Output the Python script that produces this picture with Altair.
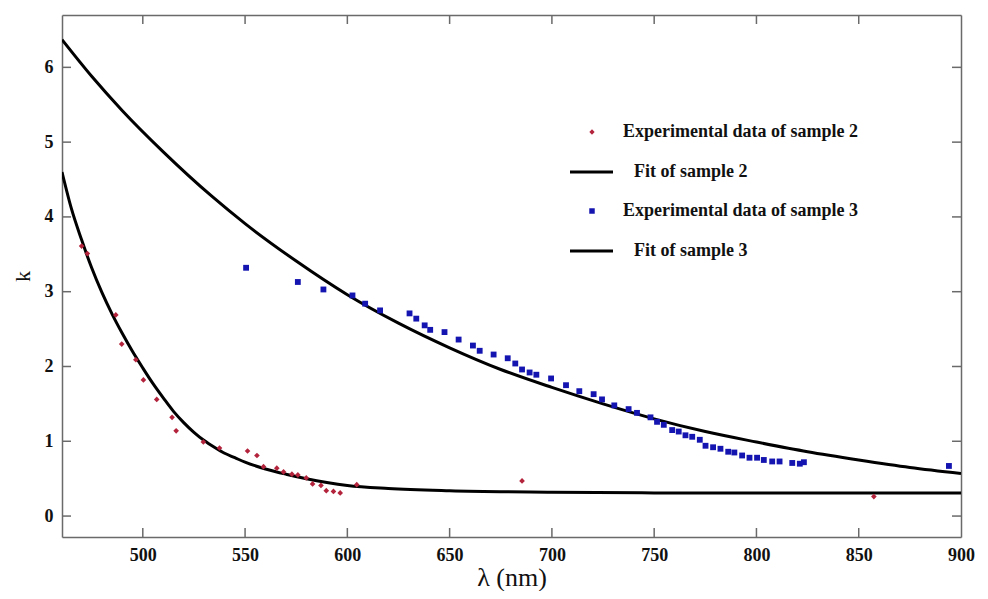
import altair as alt
import pandas as pd

# ---- data ----
s2_x = [470.1, 472.9, 486.8, 489.7, 496.6, 500.3, 506.8, 514.3, 516.3, 529.6, 537.5,
        551.2, 555.8, 559.0, 565.5, 568.8, 572.9, 575.8, 579.9, 583.0, 587.1, 589.7,
        593.2, 596.5, 604.6, 685.4, 857.4]
s2_k = [3.61, 3.51, 2.69, 2.30, 2.09, 1.82, 1.56, 1.32, 1.14, 0.99, 0.91,
        0.87, 0.81, 0.66, 0.64, 0.59, 0.56, 0.55, 0.51, 0.43, 0.41, 0.34,
        0.33, 0.31, 0.42, 0.47, 0.26]

s3_x = [550.5, 575.8, 588.3, 602.5, 608.7, 616.0, 630.4, 633.7, 637.8, 640.5, 647.5,
        654.4, 661.4, 664.7, 671.5, 678.4, 682.1, 685.4, 689.1, 692.4, 699.6, 706.9,
        713.4, 720.4, 724.5, 730.5, 737.5, 741.6, 748.2, 751.4, 754.7, 758.8, 762.0,
        765.3, 768.6, 772.3, 775.1, 778.8, 782.4, 786.2, 789.2, 793.0, 796.6, 800.3,
        803.6, 807.7, 811.3, 817.5, 821.2, 823.2, 894.1]
s3_k = [3.32, 3.13, 3.03, 2.95, 2.84, 2.75, 2.71, 2.64, 2.55, 2.49, 2.46,
        2.36, 2.28, 2.21, 2.16, 2.11, 2.04, 1.96, 1.92, 1.89, 1.84, 1.75,
        1.67, 1.63, 1.56, 1.48, 1.43, 1.38, 1.32, 1.26, 1.22, 1.15, 1.13,
        1.08, 1.06, 1.02, 0.94, 0.92, 0.90, 0.86, 0.85, 0.81, 0.78, 0.78,
        0.75, 0.73, 0.73, 0.71, 0.70, 0.72, 0.67]

fit2_x = [460.5, 465, 470, 475, 480, 485, 490, 495, 500, 505, 510, 515, 520, 525, 530,
          535, 540, 545, 550, 560, 570, 580, 590, 600, 620, 650, 700, 750, 800, 850, 900]
fit2_k = [4.60, 4.12, 3.70, 3.32, 2.99, 2.70, 2.44, 2.20, 1.98, 1.77, 1.58, 1.40, 1.25, 1.12, 1.01,
          0.92, 0.84, 0.78, 0.72, 0.63, 0.56, 0.50, 0.45, 0.41, 0.37, 0.34, 0.32, 0.31, 0.31, 0.31, 0.31]

fit3_x = [460.5, 475, 490, 510, 534, 550, 575, 600, 625, 650, 675, 700,
          725, 750, 775, 800, 825, 850, 875, 900]
fit3_k = [6.37, 5.88, 5.42, 4.87, 4.27, 3.91, 3.41, 2.96, 2.58, 2.25, 1.96, 1.72,
          1.50, 1.30, 1.13, 0.99, 0.86, 0.75, 0.65, 0.57]

x_ticks = [500, 550, 600, 650, 700, 750, 800, 850, 900]
y_ticks = [0, 1, 2, 3, 4, 5, 6]
legend_labels = ["Experimental data of sample 2", "Fit of sample 2",
                 "Experimental data of sample 3", "Fit of sample 3"]

X_DOM = [460.5, 900]
Y_DOM = [-0.28, 6.70]
W, H = 899, 522
RED = "#b3243c"
BLUE = "#1414b0"
AX = "#6a6a6a"
FONT = "Liberation Serif"

d2 = pd.DataFrame({"x": s2_x, "k": s2_k})
d3 = pd.DataFrame({"x": s3_x, "k": s3_k})
f2 = pd.DataFrame({"x": fit2_x, "k": fit2_k})
f3 = pd.DataFrame({"x": fit3_x, "k": fit3_k})

xs = alt.Scale(domain=X_DOM, nice=False, zero=False)
ys = alt.Scale(domain=Y_DOM, nice=False, zero=False)

xax = alt.Axis(values=x_ticks, ticks=False, grid=False, labelPadding=9,
               title="λ (nm)", titleFontSize=26, titlePadding=0, labelFlush=False)
yax = alt.Axis(values=y_ticks, ticks=False, grid=False, labelPadding=9,
               title="k", titleFontSize=22, titlePadding=10)


def X(axis=None):
    return alt.X("x:Q", scale=xs, axis=axis)


def Y(axis=None):
    return alt.Y("k:Q", scale=ys, axis=axis)


fit2_line = alt.Chart(f2).mark_line(color="black", strokeWidth=3, interpolate="monotone", clip=True).encode(
    x=X(xax), y=Y(yax))
fit3_line = alt.Chart(f3).mark_line(color="black", strokeWidth=3, interpolate="monotone", clip=True).encode(
    x=X(), y=Y())
pts2 = alt.Chart(d2).mark_point(shape="diamond", filled=True, color=RED, size=32, opacity=1).encode(
    x=X(), y=Y())
pts3 = alt.Chart(d3).mark_point(shape="square", filled=True, color=BLUE, size=34, opacity=1).encode(
    x=X(), y=Y())

# top / right axis domains (frame)
top_ax = alt.Chart(pd.DataFrame({"x": [X_DOM[0]]})).mark_rule(opacity=0).encode(
    x=X(alt.Axis(orient="top", labels=False, ticks=False, grid=False, title=None)))
right_ax = alt.Chart(pd.DataFrame({"k": [Y_DOM[0]]})).mark_rule(opacity=0).encode(
    y=Y(alt.Axis(orient="right", labels=False, ticks=False, grid=False, title=None)))

# inward ticks on all four sides
xt = pd.DataFrame({"x": x_ticks[:-1]})
yt = pd.DataFrame({"k": y_ticks})
tick_b = alt.Chart(xt).mark_rule(color=AX, strokeWidth=1.5).encode(
    x=X(), y=alt.value(H), y2=alt.value(H - 9))
tick_t = alt.Chart(xt).mark_rule(color=AX, strokeWidth=1.5).encode(
    x=X(), y=alt.value(0), y2=alt.value(9))
tick_l = alt.Chart(yt).mark_rule(color=AX, strokeWidth=1.5).encode(
    y=Y(), x=alt.value(0), x2=alt.value(9))
tick_r = alt.Chart(yt).mark_rule(color=AX, strokeWidth=1.5).encode(
    y=Y(), x=alt.value(W), x2=alt.value(W - 9))


# legend (drawn inside plot)
def leg_text(label, xpx, ypx):
    return alt.Chart(pd.DataFrame({"label": [label]})).mark_text(
        align="left", baseline="middle", font=FONT, fontWeight="bold", fontSize=18, color="#111"
    ).encode(text="label:N", x=alt.value(xpx), y=alt.value(ypx))


leg_pts2 = alt.Chart(pd.DataFrame({"label": [legend_labels[0]]})).mark_point(
    shape="diamond", filled=True, color=RED, size=28, opacity=1).encode(x=alt.value(530), y=alt.value(117))
leg_line2 = alt.Chart(pd.DataFrame({"label": [legend_labels[1]]})).mark_rule(
    color="black", strokeWidth=3).encode(x=alt.value(508), x2=alt.value(551), y=alt.value(157))
leg_pts3 = alt.Chart(pd.DataFrame({"label": [legend_labels[2]]})).mark_point(
    shape="square", filled=True, color=BLUE, size=30, opacity=1).encode(x=alt.value(530), y=alt.value(196))
leg_line3 = alt.Chart(pd.DataFrame({"label": [legend_labels[3]]})).mark_rule(
    color="black", strokeWidth=3).encode(x=alt.value(508), x2=alt.value(551), y=alt.value(236))

chart = alt.layer(
    fit2_line, fit3_line, pts2, pts3, top_ax, right_ax,
    tick_b, tick_t, tick_l, tick_r,
    leg_pts2, leg_text(legend_labels[0], 561, 117),
    leg_line2, leg_text(legend_labels[1], 572, 157),
    leg_pts3, leg_text(legend_labels[2], 561, 196),
    leg_line3, leg_text(legend_labels[3], 572, 236),
).resolve_axis(x="independent", y="independent").properties(
    width=W, height=H,
    autosize=alt.AutoSizeParams(type="none"),
    padding={"left": 54, "top": 7, "right": 19, "bottom": 54},
    background="white",
).configure_view(stroke=None).configure_axis(
    labelFont=FONT, labelFontWeight="bold", labelFontSize=18, labelColor="#111",
    titleFont=FONT, titleFontWeight="normal", titleColor="#111",
    domainColor=AX, domainWidth=1.5,
)

chart.save("out.html", embed_options={"renderer": "svg", "actions": False})
